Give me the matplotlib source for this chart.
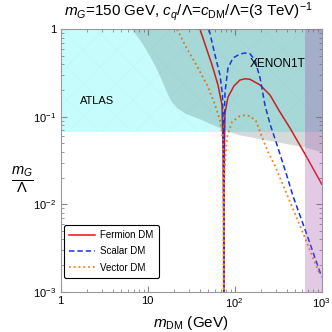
import numpy as np
import matplotlib
matplotlib.use('Agg')
import matplotlib.pyplot as plt

plt.rcParams['font.family'] = ['Liberation Sans', 'DejaVu Sans']
plt.rcParams['mathtext.fontset'] = 'custom'
plt.rcParams['mathtext.rm'] = 'Liberation Sans'
plt.rcParams['mathtext.it'] = 'Liberation Sans:italic'
plt.rcParams['hatch.linewidth'] = 0.35

# relic abundance curves (m_DM in GeV, m_G/Lambda)
fermion_m = [40.0, 55.0, 64.4, 71.6, 73.5, 74.8, 75.0, 75.3, 76.5, 77.5, 83.9, 98.3,
             115, 132, 150, 196, 255, 332, 432, 643, 1000]
fermion_y = [1.0, 0.391, 0.231, 0.136, 0.042, 0.0066, 1e-4, 0.006, 0.05, 0.110, 0.168, 0.225,
             0.263, 0.272, 0.268, 0.231, 0.177, 0.113, 0.0744, 0.0375, 0.0170]

scalar_m = [50.8, 59.5, 67.9, 72.5, 74.3, 74.9, 75.0, 75.3, 76.0, 77.5, 83.9, 95.8,
            115, 132, 150, 171, 196, 223, 255, 307, 399, 468, 678, 1000]
scalar_y = [1.0, 0.508, 0.300, 0.177, 0.06, 0.01, 1e-4, 0.02, 0.08, 0.192, 0.361, 0.470,
            0.522, 0.536, 0.525, 0.446, 0.278, 0.136, 0.0827, 0.0476, 0.0210, 0.0124, 0.00445, 0.00147]

vector_m = [21.8, 26.9, 36.9, 48.2, 57.9, 67.9, 73.5, 74.8, 75.0, 75.3, 76.5, 81.7, 93.3,
            115, 132, 150, 176, 206, 242, 291, 379, 610, 955]
vector_y = [1.0, 0.661, 0.380, 0.231, 0.148, 0.0919, 0.0543, 0.008, 1e-4, 0.006, 0.025, 0.0587, 0.0871,
            0.102, 0.104, 0.102, 0.0895, 0.0587, 0.0396, 0.0274, 0.0146, 0.00469, 0.00155]

# exclusion regions
atlas_y = 0.0675
xenon_m = [6.62, 8.19, 10.1, 12.2, 14.3, 16.3, 18.6, 21.8, 26.9, 40.0, 81.7, 115, 643, 1000]
xenon_y = [1.0, 0.754, 0.536, 0.380, 0.270, 0.197, 0.151, 0.126, 0.110, 0.0943, 0.0688, 0.0619, 0.0451, 0.0396]
perturb_m = 643

fig = plt.figure(figsize=(3.32, 3.32), dpi=100)
ax = fig.add_axes([60.5/332, 1 - 291.7/332, 261.2/332, 262.4/332])

ax.fill_between([1, 1000], atlas_y, 1, color='#c6fcfc', lw=0, zorder=1)
ax.fill_between([1, 1000], atlas_y, 1, facecolor='none', edgecolor='#bdf4f4',
                hatch='x', lw=0, zorder=1.1)

ax.plot(fermion_m, fermion_y, '-', color='#f01010', lw=1.1, zorder=2, label='Fermion DM')
ax.plot(scalar_m, scalar_y, '--', color='#1030f0', lw=1.1, zorder=2, dashes=(3.5, 2), label='Scalar DM')
ax.plot(vector_m, vector_y, ':', color='#ff8010', lw=1.3, zorder=2, label='Vector DM')

ax.fill_between(xenon_m, xenon_y, 1, color='#3c5a5a', alpha=0.22, lw=0, zorder=3)
ax.fill_between([perturb_m, 1000], 1e-3, 1, color='#a050a8', alpha=0.3, lw=0, zorder=4)

ax.set_xscale('log')
ax.set_yscale('log')
ax.set_xlim(1, 1000)
ax.set_ylim(1e-3, 1)

ax.set_xticks([1, 10, 100, 1000])
ax.set_xticklabels(['1', '10', '$10^2$', '$10^3$'])
ax.set_yticks([1e-3, 1e-2, 1e-1, 1])
ax.set_yticklabels(['$10^{-3}$', '$10^{-2}$', '$10^{-1}$', '1'])

ax.tick_params(which='both', direction='in', top=True, right=True, color='#888888',
               labelsize=8, pad=3)
ax.tick_params(which='major', length=4, width=0.8)
ax.tick_params(which='minor', length=2, width=0.6)
for s in ax.spines.values():
    s.set_color('#999999')
    s.set_linewidth(0.8)

ax.text(2.63, 0.151, 'ATLAS', fontsize=8, ha='center', va='center', zorder=5)
ax.text(315, 0.401, 'XENON1T', fontsize=8.5, ha='center', va='center', zorder=5)

ax.set_xlabel(r'$m_{\rm DM}$ (GeV)', fontsize=11, labelpad=3)
fig.text(22/332, 1 - 180/332, r'$\frac{m_G}{\Lambda}$', fontsize=15, ha='center', va='center')
fig.text(188/332, 1 - 12/332,
         r'$m_G$=150 GeV, $c_q$/$\Lambda$=$c_{\rm DM}$/$\Lambda$=(3 TeV)$^{-1}$',
         fontsize=11, ha='center', va='center')

leg = ax.legend(loc='lower left', bbox_to_anchor=(0.013, 0.052), fontsize=7,
                frameon=True, fancybox=True, edgecolor='black', framealpha=1,
                handlelength=2.6, handletextpad=0.6, borderpad=0.55, labelspacing=0.65,
                borderaxespad=0)
leg.get_frame().set_linewidth(0.8)
leg.set_zorder(6)

fig.savefig('out.png', dpi=100)
